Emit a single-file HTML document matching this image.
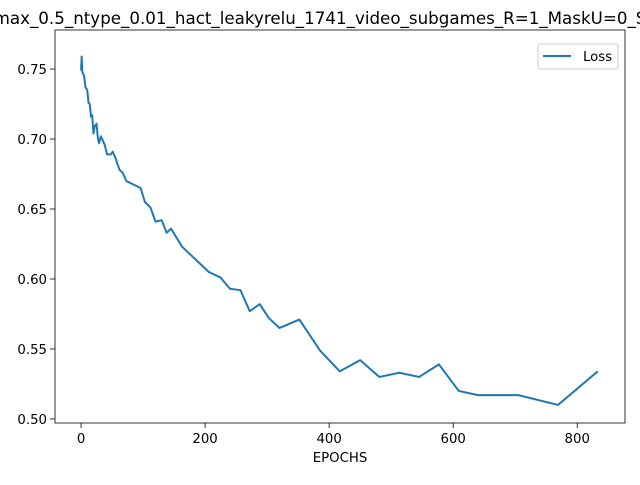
<!DOCTYPE html>
<html><head><meta charset="utf-8"><style>
body{margin:0;background:#fff;width:640px;height:480px;overflow:hidden}
text{font-family:"DejaVu Sans","Liberation Sans",sans-serif;fill:#000}
</style></head><body>
<svg id="chart" width="640" height="480" xmlns="http://www.w3.org/2000/svg">
<text x="320" y="24" font-size="16.7" text-anchor="middle">max_0.5_ntype_0.01_hact_leakyrelu_1741_video_subgames_R=1_MaskU=0_S</text>
<g id="axes"></g>
</svg>
<script>
const epochs=[0,1,2,5,7,10,12,14,16,18,20,22,25,27,29,32,35,38,42,48,51,55,58,62,67,73,96,103,112,120,130,138,145,163,206,225,240,257,272,288,303,320,352,385,417,450,481,513,545,577,609,640,705,769,833];
const losses=[0.749,0.759,0.748,0.745,0.737,0.735,0.726,0.725,0.716,0.717,0.704,0.709,0.711,0.701,0.697,0.702,0.699,0.696,0.689,0.689,0.691,0.687,0.683,0.678,0.676,0.670,0.665,0.655,0.651,0.641,0.642,0.633,0.636,0.623,0.605,0.601,0.593,0.592,0.577,0.582,0.572,0.565,0.571,0.549,0.534,0.542,0.530,0.533,0.530,0.539,0.520,0.517,0.517,0.510,0.534];
const xTicks=[0,200,400,600,800];
const yTicks=[0.50,0.55,0.60,0.65,0.70,0.75];
const L=55,R=625,T=30,B=423;
const xMin=-42,xMax=877,yMin=0.4971,yMax=0.7779;
const sx=v=>L+(v-xMin)/(xMax-xMin)*(R-L);
const sy=v=>B-(v-yMin)/(yMax-yMin)*(B-T);
const NS="http://www.w3.org/2000/svg";
const g=document.getElementById('axes');
function mk(tag,attrs){const e=document.createElementNS(NS,tag);for(const k in attrs)e.setAttribute(k,attrs[k]);g.appendChild(e);return e;}
xTicks.forEach(t=>{
 const l=mk('line',{x1:sx(t),x2:sx(t),y1:B,y2:B+5,stroke:'#000','stroke-width':0.8});
 
 
 const tx=mk('text',{x:sx(t),y:B+20,'font-size':13.3,'text-anchor':'middle'});tx.textContent=t;
 
 
});
yTicks.forEach(t=>{
 const l=mk('line',{x1:L-5,x2:L,y1:sy(t),y2:sy(t),stroke:'#000','stroke-width':0.8});
 
 
 const tx=mk('text',{x:L-8,y:sy(t)+5,'font-size':13.3,'text-anchor':'end'});tx.textContent=t.toFixed(2);
 
 
});
const p=mk('polyline',{points:epochs.map((e,i)=>sx(e)+','+sy(losses[i])).join(' '),fill:'none',stroke:'#1f77b4','stroke-width':2,'stroke-linejoin':'round'});


const fr=mk('rect',{x:L,y:T,width:R-L,height:B-T,fill:'none',stroke:'#000','stroke-width':0.8});


const xl=mk('text',{x:(L+R)/2,y:462,'font-size':13.3,'text-anchor':'middle'});xl.textContent='EPOCHS';


const lg=mk('rect',{x:538,y:44,width:80,height:25,fill:'#fff',stroke:'#ccc','stroke-width':1,rx:2});


const ll=mk('line',{x1:543,x2:571,y1:56,y2:56,stroke:'#1f77b4','stroke-width':2});


const lt=mk('text',{x:583,y:61,'font-size':13.3});lt.textContent='Loss';


</script>
</body></html>
